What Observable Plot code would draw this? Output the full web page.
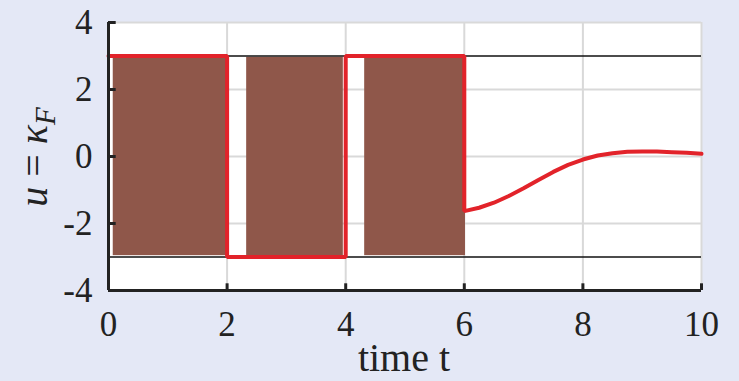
<!DOCTYPE html>
<html>
<head>
<meta charset="utf-8">
<script src="https://cdn.jsdelivr.net/npm/d3@7"></script>
<script src="https://cdn.jsdelivr.net/npm/@observablehq/plot@0.6"></script>
<style>
  html, body { margin: 0; padding: 0; background: #e4e8f6; }
  #chart svg { display: block; }
  #chart svg, #chart svg text { font-family: "Liberation Serif", "DejaVu Serif", serif !important; }
</style>
</head>
<body>
<div id="chart"></div>
<script>
// ---- data ----
const xTicks = [0, 2, 4, 6, 8, 10];
const yTicks = [-4, -2, 0, 2, 4];
const limitLevels = [-3, 3];
// high-frequency switching bursts (brown), as time intervals
const burstStart = [0.08, 2.33, 4.32];
const burstEnd   = [2.0, 3.96, 6.02];
const burstLow   = [-2.96, -2.96, -2.96];
const burstHigh  = [2.96, 2.96, 2.96];
// red control signal
const tRed = [0, 2, 2, 4, 4, 6, 6, 6.25, 6.5, 6.75, 7, 7.25, 7.5, 7.75, 8, 8.25, 8.5, 8.75, 9, 9.25, 9.5, 9.75, 10];
const uRed = [3, 3, -3, -3, 3, 3, -1.63, -1.53, -1.38, -1.18, -0.95, -0.7, -0.46, -0.25, -0.09, 0.03, 0.1, 0.14, 0.15, 0.15, 0.13, 0.11, 0.08];

const bursts = burstStart.map((s, i) => ({x1: s, x2: burstEnd[i], y1: burstLow[i], y2: burstHigh[i]}));
const red = tRed.map((t, i) => ({t, u: uRed[i]}));

const axisColor = "#222";

const plot = Plot.plot({
  width: 739,
  height: 381,
  marginLeft: 108,
  marginRight: 38,
  marginTop: 22,
  marginBottom: 91,
  style: {background: "#e4e8f6", color: "#222"},
  x: {domain: [0, 10]},
  y: {domain: [-4, 4]},
  marks: [
    Plot.frame({fill: "white", stroke: null}),
    Plot.gridX(xTicks, {stroke: "#d9d9d9", strokeOpacity: 1, strokeWidth: 2}),
    Plot.gridY(yTicks, {stroke: "#d9d9d9", strokeOpacity: 1, strokeWidth: 2}),
    Plot.rect(bursts, {x1: "x1", x2: "x2", y1: "y1", y2: "y2", fill: "#8f574a"}),
    Plot.ruleY(limitLevels, {stroke: "#111", strokeWidth: 1.5}),
    Plot.line(red, {x: "t", y: "u", stroke: "#e2232a", strokeWidth: 4, strokeLinejoin: "miter", curve: "linear"}),
    // axis lines
    Plot.ruleX([0], {stroke: axisColor, strokeWidth: 3}),
    Plot.ruleY([-4], {stroke: axisColor, strokeWidth: 3}),
    // inward ticks
    Plot.ruleY(yTicks, {x1: 0, x2: 0.13, stroke: axisColor, strokeWidth: 3}),
    Plot.ruleX(xTicks, {y1: -4, y2: -3.8, stroke: axisColor, strokeWidth: 3}),
    Plot.axisX(xTicks, {tickSize: 0, tickPadding: 21, fontSize: 35, tickFormat: d => String(d), label: null, fill: "#222"}),
    Plot.axisY(yTicks, {tickSize: 0, tickPadding: 16, fontSize: 35, tickFormat: d => String(d), label: null, fill: "#222"})
  ]
});

const svg = d3.select(plot);
// x-axis label
svg.append("text")
  .attr("x", 404).attr("y", 371)
  .attr("text-anchor", "middle")
  .attr("font-size", 40).attr("fill", "#222")
  .text("time t");
// y-axis label
const yl = svg.append("text")
  .attr("transform", "translate(47,157) rotate(-90)")
  .attr("text-anchor", "middle")
  .attr("font-size", 40).attr("fill", "#222");
yl.append("tspan").attr("font-style", "italic").text("u");
yl.append("tspan").text(" = ");
yl.append("tspan").attr("font-style", "italic").text("κ");
yl.append("tspan").attr("font-style", "italic").attr("font-size", 29).attr("dy", 8).text("F");

document.getElementById("chart").appendChild(plot);
</script>
</body>
</html>
